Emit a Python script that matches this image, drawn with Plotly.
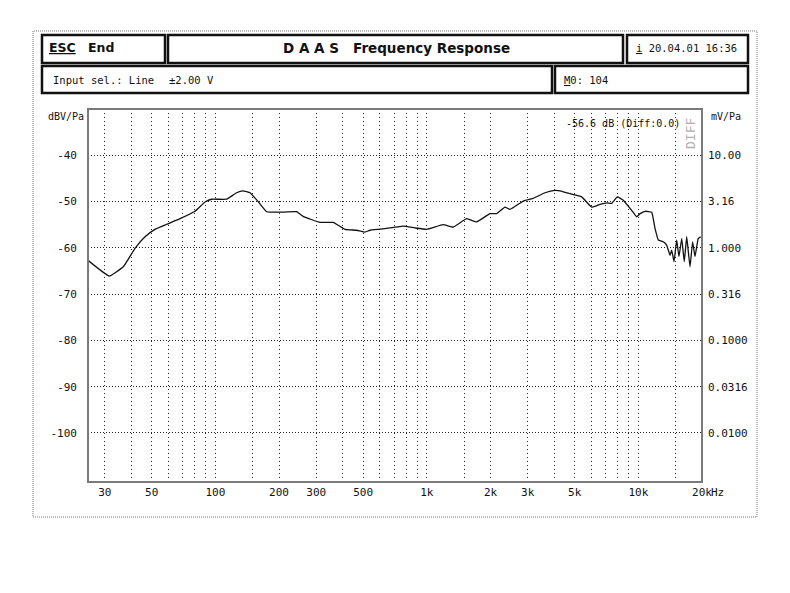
import plotly.graph_objects as go

# ---- data ----
freq_hz = [25, 31.5, 36.7, 41.7, 46.5, 51.8, 58.9, 68.1, 80.1, 89.4, 96.1, 113, 126, 135, 146,
           160, 175, 202, 242, 260, 312, 361, 410, 466, 510, 538, 590, 646, 775, 878, 998,
           1196, 1333, 1544, 1721, 1990, 2140, 2343, 2472, 2858, 3188, 3621, 4037, 4264,
           4930, 5400, 6020, 6590, 7090, 7480, 7960, 8490, 9300, 9820, 10200, 10760, 11570,
           11990, 12430, 13120, 13610, 14120, 14380, 14750, 15180, 15560, 16040, 16490,
           16930, 17550, 18060, 18530, 19190, 19720]
level_dbv = [-62.7, -66.1, -64.1, -60.1, -57.6, -56.0, -54.9, -53.7, -52.1, -50.1, -49.5, -49.5,
             -48.1, -47.7, -48.1, -50.1, -52.2, -52.3, -52.2, -53.2, -54.5, -54.5, -56.0, -56.2,
             -56.6, -56.2, -56.0, -55.8, -55.3, -55.7, -56.0, -55.0, -55.5, -53.7, -54.4, -52.6,
             -52.6, -51.2, -51.7, -49.9, -49.3, -48.1, -47.6, -47.7, -48.5, -49.0, -51.2, -50.6,
             -50.3, -50.4, -49.0, -49.7, -51.9, -53.3, -52.6, -52.1, -52.3, -55.8, -58.3, -58.7,
             -59.4, -61.6, -60.5, -63.0, -58.3, -61.9, -58.0, -63.0, -57.6, -64.1, -58.7, -61.9,
             -58.0, -57.6]

x_label_vals = [30, 50, 100, 200, 300, 500, 1000, 2000, 3000, 5000, 10000, 20000]
x_label_text = ["30", "50", "100", "200", "300", "500", "1k", "2k", "3k", "5k", "10k", "20k"]
x_minor_grid = [40, 60, 70, 80, 90, 150, 400, 600, 700, 800, 900, 1500, 4000, 6000, 7000,
                8000, 9000, 15000]
y_left_vals = [-40, -50, -60, -70, -80, -90, -100]
y_left_text = ["-40", "-50", "-60", "-70", "-80", "-90", "-100"]
y_right_text = ["10.00", "3.16", "1.000", "0.316", "0.1000", "0.0316", "0.0100"]

MONO = "DejaVu Sans Mono"
BOLD = "DejaVu Sans"

# plot area in screenshot pixels
L, R, T, B = 88, 702, 109, 482
W, H = 790, 593
OFF = 8  # page body margin


def px(x):
    return (x - L) / (R - L)


def py(y):
    return (B - y) / (B - T)


fig = go.Figure()
fig.add_trace(go.Scatter(x=freq_hz, y=level_dbv, mode="lines",
                         line=dict(color="#111111", width=1.3, shape="spline", smoothing=0.3),
                         showlegend=False, hoverinfo="x+y"))
fig.add_trace(go.Scatter(x=freq_hz, y=level_dbv, mode="lines", yaxis="y2",
                         line=dict(color="rgba(0,0,0,0)", width=0),
                         showlegend=False, hoverinfo="skip"))

yr = [-110.6, -30]
fig.update_layout(
    width=W, height=H,
    margin=dict(l=L - OFF, r=W - (R - OFF), t=T - OFF, b=H - (B - OFF), pad=0),
    paper_bgcolor="white", plot_bgcolor="white",
    xaxis=dict(type="log", range=[1.39794, 4.30103],
               tickvals=x_label_vals, ticktext=x_label_text,
               showgrid=True, gridcolor="#222222", griddash="1px,3px", gridwidth=1,
               minor=dict(tickvals=x_minor_grid, showgrid=True, gridcolor="#222222",
                          griddash="1px,3px", gridwidth=1, ticks=""),
               ticks="", showline=False, zeroline=False,
               tickfont=dict(family=MONO, size=11, color="#111111"), ticklabelstandoff=2),
    yaxis=dict(range=yr, tickvals=y_left_vals, ticktext=y_left_text,
               showgrid=True, gridcolor="#222222", griddash="1px,2px", gridwidth=1,
               ticks="", showline=False, zeroline=False,
               tickfont=dict(family=MONO, size=11, color="#111111"), ticklabelstandoff=10),
    yaxis2=dict(range=yr, overlaying="y", side="right", tickvals=y_left_vals,
                ticktext=y_right_text, showgrid=False, ticks="", showline=False,
                zeroline=False, tickfont=dict(family=MONO, size=11, color="#111111"),
                ticklabelstandoff=5),
)

shapes = []
# outer dotted frame
shapes.append(dict(type="rect", xref="paper", yref="paper", x0=px(33), x1=px(757),
                   y0=py(517), y1=py(31), line=dict(color="#777777", width=1, dash="1px,1px")))
# plot frame
shapes.append(dict(type="rect", xref="paper", yref="paper", x0=0, x1=1, y0=0, y1=1,
                   line=dict(color="#7a7a7a", width=2)))
# header boxes
for (x0, x1, y0, y1) in [(42, 165, 35, 63), (168, 623, 35, 63), (627, 748, 35, 63),
                         (42, 552, 66, 93), (555, 748, 66, 93)]:
    shapes.append(dict(type="rect", xref="paper", yref="paper", x0=px(x0), x1=px(x1),
                       y0=py(y1), y1=py(y0), line=dict(color="#111111", width=2.5)))
fig.update_layout(shapes=shapes)

ann = []


def add_text(text, x, y, size=10.5, family=MONO, anchor="left", color="#111111", angle=0):
    ann.append(dict(text=text, x=px(x), y=py(y), xref="paper", yref="paper", showarrow=False,
                    xanchor=anchor, yanchor="middle", textangle=angle,
                    font=dict(family=family, size=size, color=color)))


add_text("<b><u>ESC</u></b>", 47, 48, size=12.5, family=BOLD)
add_text("<b>End</b>", 86, 48, size=12.5, family=BOLD)
add_text("<b>D A A S   Frequency Response</b>", 396, 48, size=13.5, family=BOLD, anchor="center")
add_text("<u>i</u> 20.04.01 16:36", 634, 48, size=10.5)
add_text("Input sel.: Line", 51, 79.5, size=10.5)
add_text("±2.00 V", 167, 79.5, size=10.5)
add_text("<u>M</u>0: 104", 562, 79.5, size=10.5)
add_text("dBV/Pa", 86, 116, size=10, anchor="right")
add_text("mV/Pa", 709, 116, size=10)
add_text("-56.6 dB (Diff:0.0)", 564, 123, size=10)
add_text("DIFF", 690, 134, size=13, color="#b0b0b0", anchor="center", angle=-90)
add_text("Hz", 709, 492, size=11)
fig.update_layout(annotations=ann)

fig.write_html("out.html")
